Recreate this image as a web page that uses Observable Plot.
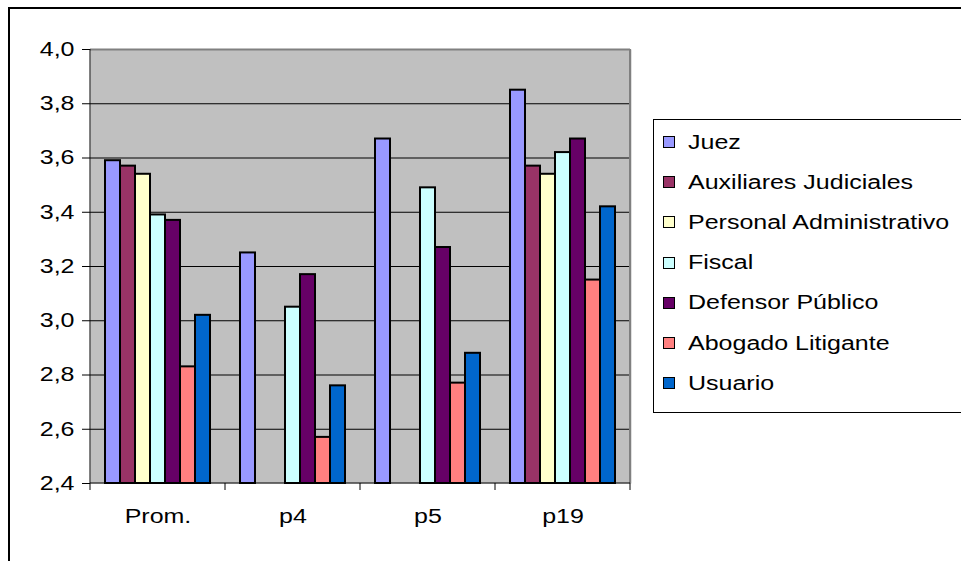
<!DOCTYPE html>
<html>
<head>
<meta charset="utf-8">
<script src="https://cdn.jsdelivr.net/npm/d3@7"></script>
<script src="https://cdn.jsdelivr.net/npm/@observablehq/plot@0.6"></script>
<style>
  body { margin: 0; background: #fff; }
  #chart { position: relative; width: 961px; height: 561px; overflow: hidden;
           font-family: "Liberation Sans", Arial, sans-serif; color: #000; }
  #border { position: absolute; left: 8px; top: 7px; width: 1000px; height: 600px;
            border: 2px solid #000; box-sizing: border-box; }
  #plot { position: absolute; left: 0; top: 0; }
  #legend { position: absolute; left: 653px; top: 119px; width: 400px; height: 294px;
            border: 1px solid #000; box-sizing: border-box; background: #fff;
            padding-top: 2px; }
  .item { display: flex; align-items: center; height: 40.2px; font-size: 20px; white-space: nowrap; }
  .sw { width: 10px; height: 10px; border: 1px solid #000; margin-left: 9px; margin-right: 13px; flex: none; }
  .item span { display: inline-block; transform: scaleX(1.25); transform-origin: left center; }
</style>
</head>
<body>
<div id="chart">
  <div id="border"></div>
  <div id="plot"></div>
  <div id="legend"></div>
</div>
<script>
// Question groups along the x axis
const groups = ["Prom.", "p4", "p5", "p19"];

// Respondent types and their fill colours
const series = ["Juez", "Auxiliares Judiciales", "Personal Administrativo", "Fiscal",
                "Defensor Público", "Abogado Litigante", "Usuario"];
const colors = ["#9999ff", "#993366", "#ffffcc", "#ccffff", "#660066", "#ff8080", "#0066cc"];

// Mean scores per group (null = no answer for that group)
const juez          = [3.59, 3.25, 3.67, 3.85];
const auxiliares    = [3.57, null, null, 3.57];
const personalAdm   = [3.54, null, null, 3.54];
const fiscal        = [3.39, 3.05, 3.49, 3.62];
const defensor      = [3.37, 3.17, 3.27, 3.67];
const abogado       = [2.83, 2.57, 2.77, 3.15];
const usuario       = [3.02, 2.76, 2.88, 3.42];

// Value axis ticks
const yTicks = [2.4, 2.6, 2.8, 3.0, 3.2, 3.4, 3.6, 3.8, 4.0];

const valuesBySeries = [juez, auxiliares, personalAdm, fiscal, defensor, abogado, usuario];
const rows = [];
series.forEach((s, i) => {
  groups.forEach((g, j) => {
    const v = valuesBySeries[i][j];
    if (v != null) rows.push({group: g, series: s, value: v});
  });
});

const yMin = yTicks[0], yMax = yTicks[yTicks.length - 1];
const fmt = d => d.toFixed(1).replace(".", ",");
const textStretch = 1.25; // wide lettering

const chart = Plot.plot({
  width: 640,
  height: 561,
  marginLeft: 89,
  marginRight: 9,
  marginTop: 49,
  marginBottom: 78,
  style: {fontFamily: "Liberation Sans, Arial, sans-serif", fontSize: "20px", color: "#000", background: "transparent"},
  fx: {domain: groups, padding: 0, label: null},
  x: {domain: series, paddingInner: 0, paddingOuter: 0.73, axis: null},
  y: {domain: [yMin, yMax], axis: null},
  color: {domain: series, range: colors},
  marks: [
    Plot.frame({fill: "#c0c0c0", stroke: null, insetRight: -1}),
    Plot.gridY(yTicks.slice(1, -1), {stroke: "#000", strokeOpacity: 1}),
    Plot.ruleY([yMax], {stroke: "#808080", strokeWidth: 2}),
    Plot.barY(rows, {fx: "group", x: "series", y1: yMin, y2: "value",
                     fill: "series", stroke: "#000", strokeWidth: 2}),
    Plot.axisY({ticks: yTicks, tickFormat: fmt, tickSize: 8, tickPadding: 8,
                stroke: "#000", strokeOpacity: 1, label: null}),
    Plot.axisFx({anchor: "bottom", tickSize: 0, tickPadding: 25, label: null})
  ]
});

// Axis lines, group separator ticks and the right edge of the plot area
const fx = chart.scale("fx");
const y = chart.scale("y");
const xL = fx.apply(groups[0]);
const xR = fx.apply(groups[groups.length - 1]) + fx.bandwidth;
const svg = d3.select(chart);

// widen the tick labels around their anchor point
svg.selectAll("text").each(function() {
  const t = d3.select(this);
  const x = +t.attr("x") || 0, yy = +t.attr("y") || 0;
  const tr = t.attr("transform") || "";
  t.attr("transform", `${tr} translate(${x},${yy}) scale(${textStretch},1) translate(${-x},${-yy})`);
});

const g = svg.append("g");
g.append("line").attr("x1", xR).attr("x2", xR).attr("y1", y.apply(yMax)).attr("y2", y.apply(yMin))
  .attr("stroke", "#808080").attr("stroke-width", 2);
g.append("line").attr("x1", xL).attr("x2", xL).attr("y1", y.apply(yMax)).attr("y2", y.apply(yMin))
  .attr("stroke", "#000");
g.append("line").attr("x1", xL).attr("x2", xR).attr("y1", y.apply(yMin)).attr("y2", y.apply(yMin))
  .attr("stroke", "#000");
g.selectAll(".sep").data([...groups.map(d => fx.apply(d)), xR]).join("line")
  .attr("x1", d => d).attr("x2", d => d)
  .attr("y1", y.apply(yMin)).attr("y2", y.apply(yMin) + 7)
  .attr("stroke", "#000");

document.getElementById("plot").appendChild(chart);

// Legend
const legend = d3.select("#legend");
series.forEach((s, i) => {
  const item = legend.append("div").attr("class", "item");
  item.append("div").attr("class", "sw").style("background", colors[i]);
  item.append("span").text(s);
});
</script>
</body>
</html>
